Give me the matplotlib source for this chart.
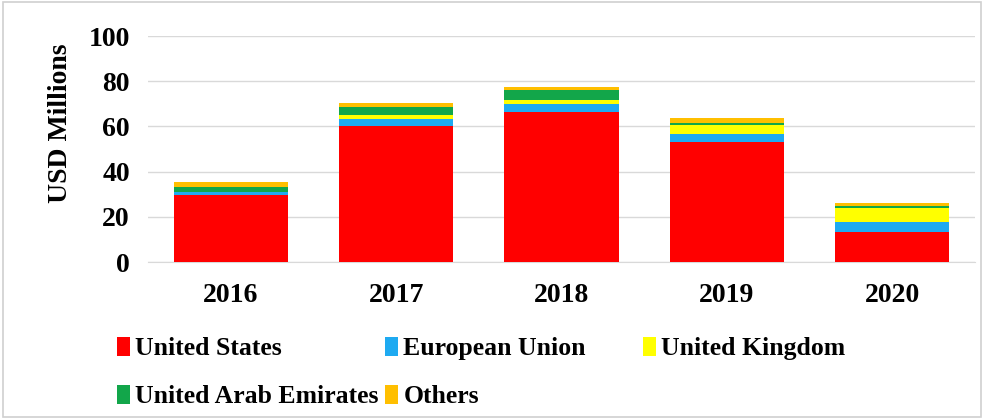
import numpy as np
import matplotlib.pyplot as plt
from matplotlib.patches import Rectangle

plt.rcParams['font.family'] = ['Liberation Serif', 'DejaVu Serif']
plt.rcParams['font.weight'] = 'bold'

years = ["2016", "2017", "2018", "2019", "2020"]
united_states = [29.6, 60.2, 66.2, 53.3, 13.4]
european_union = [1.2, 3.0, 3.5, 3.4, 4.2]
united_kingdom = [0.3, 1.9, 2.2, 4.0, 6.2]
uae = [2.0, 3.4, 4.1, 1.0, 0.8]
others = [2.3, 2.0, 1.5, 2.2, 1.4]

series = [
    ("United States", united_states, "#ff0000"),
    ("European Union", european_union, "#1eaaf1"),
    ("United Kingdom", united_kingdom, "#ffff00"),
    ("United Arab Emirates", uae, "#12a64a"),
    ("Others", others, "#ffbf00"),
]

fig = plt.figure(figsize=(9.84, 4.19), dpi=100)
ax = fig.add_axes([148 / 984, 1 - 262 / 419, 827 / 984, 226 / 419])

x = np.arange(len(years))
bottom = np.zeros(len(years))
handles = {}
for name, vals, col in series:
    b = ax.bar(x, vals, width=0.69, bottom=bottom, color=col, label=name, zorder=3)
    handles[name] = b
    bottom += np.array(vals)

ax.set_ylim(0, 100)
ax.set_xlim(-0.5, len(years) - 0.5)
ax.set_yticks(range(0, 101, 20))
ax.set_xticks(x)
ax.set_xticklabels(years)
ax.yaxis.grid(True, color="#d9d9d9", linewidth=1, zorder=0)
for s in ["top", "right", "left"]:
    ax.spines[s].set_visible(False)
ax.spines["bottom"].set_color("#d9d9d9")
ax.tick_params(axis="both", length=0, labelsize=20)
ax.tick_params(axis="x", pad=15)
ax.tick_params(axis="y", pad=13)
ax.set_ylabel("USD Millions", fontsize=20, fontweight="bold")
ax.yaxis.set_label_coords(-0.091, 0.615)

leg_kw = dict(loc="upper left", frameon=False, fontsize=18.5, handlelength=0.5,
              handleheight=0.75, handletextpad=0.2, columnspacing=0.27,
              labelspacing=0.95, borderaxespad=0, borderpad=0)
order = ["United States", "United Arab Emirates", "European Union", "Others"]
fig.legend([handles[n] for n in order], order, ncol=2,
           bbox_to_anchor=(117 / 984, 1 - 337 / 419), **leg_kw)
fig.legend([handles["United Kingdom"]], ["United Kingdom"], ncol=1,
           bbox_to_anchor=(643 / 984, 1 - 337 / 419), **leg_kw)

fig.patches.append(Rectangle((0.003, 0.005), 0.994, 0.99, transform=fig.transFigure,
                             fill=False, edgecolor="#d0d0d0", linewidth=1.2))

fig.savefig("out.png", dpi=100)
